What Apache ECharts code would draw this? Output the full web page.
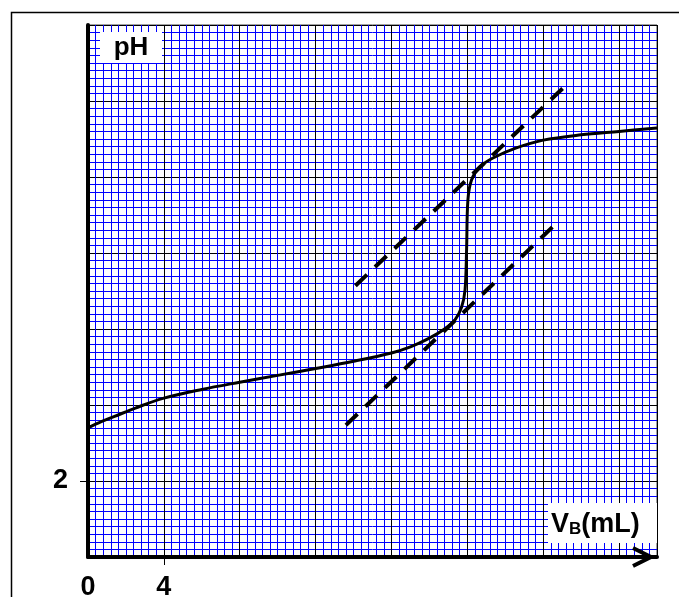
<!DOCTYPE html>
<html>
<head>
<meta charset="utf-8">
<script src="https://cdn.jsdelivr.net/npm/echarts@6/dist/echarts.min.js"></script>
<style>
html, body { margin: 0; padding: 0; background: #fff; }
#chart { width: 679px; height: 597px; }
</style>
</head>
<body>
<div id="chart"></div>
<script>
// axis setup (mL and pH)
var xMin = 0, xMax = 30, xStep = 4;
var yMin = 0, yMax = 14, yStep = 2;
var xTickLabels = [0, 4];
var xTickMarks = [4];
var yTickLabels = [2];

// titration curve: [V_B (mL), pH]
var curveVB = [0, 0.7, 1.4, 2.5, 4, 6, 8, 10, 12, 14, 16, 17, 18, 18.8, 19.35, 19.7, 19.88, 19.96, 20.03, 20.22, 20.65, 21.35, 22.55, 24, 26, 28, 30];
var curvePH = [3.40, 3.56, 3.70, 3.92, 4.18, 4.41, 4.6, 4.78, 4.96, 5.15, 5.37, 5.53, 5.76, 6.0, 6.24, 6.58, 7.03, 8.08, 9.39, 9.92, 10.26, 10.5, 10.76, 10.97, 11.11, 11.2, 11.29];

// the two parallel tangents (dashed)
var upperTangent = [[14.1, 7.14], [25.15, 12.39]];
var lowerTangent = [[13.6, 3.47], [24.65, 8.76]];

var curve = curveVB.map(function (v, i) { return [v, curvePH[i]]; });

var FONT = '"Liberation Sans", Arial, sans-serif';
var chart = echarts.init(document.getElementById('chart'));

function onlyThese(list) {
  return function (v) { return list.indexOf(v) >= 0 ? String(v) : ''; };
}

var option = {
  animation: false,
  backgroundColor: '#fff',
  grid: {
    left: 88, top: 25, right: 22, bottom: 40,
    outerBoundsMode: 'none', containLabel: false,
    show: true, backgroundColor: '#fff', borderColor: '#444', borderWidth: 1
  },
  xAxis: [
    {
      type: 'value', min: xMin, max: xMax, interval: xStep,
      axisLine: { show: true, onZero: false, lineStyle: { color: '#000', width: 4 } },
      axisTick: { show: false },
      axisLabel: {
        formatter: onlyThese(xTickLabels), margin: 17, showMaxLabel: false,
        color: '#000', fontFamily: FONT, fontWeight: 'bold', fontSize: 27
      },
      splitLine: { show: true, lineStyle: { color: '#000', width: 1 } },
      minorTick: { show: false, splitNumber: 10 },
      minorSplitLine: { show: true, lineStyle: { color: '#0000ff', width: 1 } }
    },
    {
      // only carries the single tick mark under "4"
      type: 'value', min: xMin, max: xMax, position: 'bottom',
      axisLine: { show: false },
      axisTick: { show: true, customValues: xTickMarks, length: 8, lineStyle: { color: '#000', width: 1 } },
      axisLabel: { show: false },
      splitLine: { show: false }
    }
  ],
  yAxis: [
    {
      type: 'value', min: yMin, max: yMax, interval: yStep,
      axisLine: { show: true, onZero: false, lineStyle: { color: '#000', width: 4 } },
      axisTick: { show: false },
      axisLabel: {
        formatter: onlyThese(yTickLabels), margin: 20,
        color: '#000', fontFamily: FONT, fontWeight: 'bold', fontSize: 27
      },
      splitLine: { show: true, lineStyle: { color: '#000', width: 1 } },
      minorTick: { show: false, splitNumber: 10 },
      minorSplitLine: { show: true, lineStyle: { color: '#0000ff', width: 1 } }
    },
    {
      type: 'value', min: yMin, max: yMax, position: 'left',
      axisLine: { show: false },
      axisTick: { show: true, customValues: yTickLabels, length: 8, lineStyle: { color: '#000', width: 1 } },
      axisLabel: { show: false },
      splitLine: { show: false }
    }
  ],
  series: [
    {
      type: 'line', data: curve, smooth: 0.35, symbol: 'none', z: 5,
      lineStyle: { color: '#000', width: 3 }
    },
    {
      type: 'line', data: upperTangent, symbol: 'none', z: 4,
      lineStyle: { color: '#000', width: 4, type: [16, 11], cap: 'butt' }
    },
    {
      type: 'line', data: lowerTangent, symbol: 'none', z: 4,
      lineStyle: { color: '#000', width: 4, type: [16, 11], cap: 'butt' }
    }
  ]
};
chart.setOption(option);

// arrows, axis names and the outer frame
var top = chart.convertToPixel({ gridIndex: 0 }, [xMin, yMax]);
var right = chart.convertToPixel({ gridIndex: 0 }, [xMax, yMin]);
chart.setOption({
  graphic: [
    {
      type: 'rect', z: 0, silent: true,
      shape: { x: 11.5, y: 12.5, width: 900, height: 900 },
      style: { fill: null, stroke: '#000', lineWidth: 1.5 }
    },
    {
      type: 'line', z: 50, shape: { x1: top[0], y1: top[1], x2: top[0], y2: top[1] + 6 },
      style: { stroke: '#000', lineWidth: 4 }
    },
    {
      type: 'polyline', z: 50,
      shape: { points: [[top[0] - 10, top[1] + 23], [top[0], top[1] + 5], [top[0] + 10, top[1] + 23]] },
      style: { stroke: '#000', lineWidth: 4, fill: null, lineJoin: 'miter' }
    },
    {
      type: 'polyline', z: 50,
      shape: { points: [[right[0] - 24, right[1] - 9], [right[0] - 6, right[1]], [right[0] - 24, right[1] + 9]] },
      style: { stroke: '#000', lineWidth: 4, fill: null, lineJoin: 'miter' }
    },
    {
      type: 'rect', z: 40, shape: { x: 100, y: 32, width: 62, height: 31 },
      style: { fill: '#fff' }
    },
    {
      type: 'text', z: 41, x: 131, y: 48,
      style: {
        text: 'pH', fill: '#000', font: 'bold 26px ' + FONT,
        align: 'center', verticalAlign: 'middle'
      }
    },
    {
      type: 'rect', z: 40, shape: { x: 548, y: 503, width: 109, height: 40 },
      style: { fill: '#fff' }
    },
    {
      type: 'text', z: 41, x: 551, y: 506,
      style: {
        text: '{a|V}{b|B}{a|(mL)}', fill: '#000',
        rich: {
          a: { fontFamily: FONT, fontWeight: 'bold', fontSize: 27, lineHeight: 32, verticalAlign: 'bottom' },
          b: { fontFamily: FONT, fontWeight: 'bold', fontSize: 17, lineHeight: 22, verticalAlign: 'bottom' }
        }
      }
    }
  ]
});
</script>
</body>
</html>
